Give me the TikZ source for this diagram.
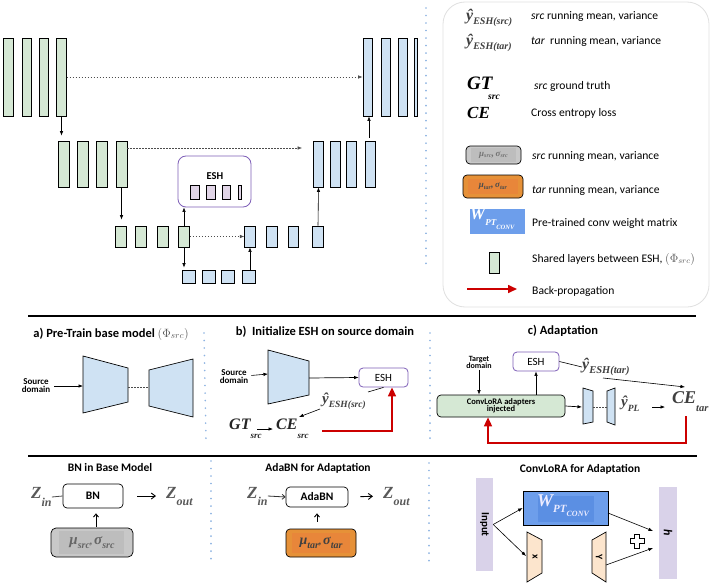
\documentclass[tikz,border=0pt]{standalone}
\usepackage{fontspec}
\setmainfont{Carlito}
\newfontfamily\sr{Liberation Serif}
\usetikzlibrary{arrows.meta,calc}
\definecolor{gfill}{HTML}{D5E8D4}
\definecolor{bfill}{HTML}{CFE2F3}
\definecolor{eshc}{HTML}{7E5FB8}
\definecolor{pfill}{HTML}{E1D5E7}
\definecolor{dotb}{HTML}{8DB3E2}
\definecolor{redc}{HTML}{CC0000}
\definecolor{grayf}{HTML}{C8C8C8}
\definecolor{grayi}{HTML}{BDBDBD}
\definecolor{orf}{HTML}{E69138}
\definecolor{ori}{HTML}{E8863A}
\definecolor{wblue}{HTML}{6D9EEB}
\definecolor{wblin}{HTML}{5B8FE3}
\definecolor{lav}{HTML}{D9D2E9}
\definecolor{peach}{HTML}{FCE5CD}
\definecolor{txg}{HTML}{404040}
\newcommand\fs[1]{\fontsize{#1}{#1}\selectfont}
\newcommand\sbx[3]{\raisebox{#1}{\fs{#2}\sr\bfseries\itshape #3}}
\begin{document}
\begin{tikzpicture}[x=1pt,y=-1pt,
  arr/.style={-{Latex[length=4.5pt,width=3.5pt]}, line width=0.6pt},
  gbar/.style={draw, fill=gfill, line width=0.7pt, inner sep=0pt},
  bbar/.style={draw, fill=bfill, line width=0.7pt, inner sep=0pt},
  pbar/.style={draw, fill=pfill, line width=0.6pt, inner sep=0pt},
  skip/.style={dash pattern=on 1.5pt off 1.5pt, line width=0.6pt, draw=black!70},
  sepl/.style={draw=dotb, line width=1.8pt, dash pattern=on 0.01pt off 7.5pt, line cap=round},
  esh/.style={draw=eshc, rounded corners=4pt, line width=0.8pt, inner sep=0pt, fill=white},
  txt/.style={inner sep=0pt, font=\fs{11.6}},
  ttl/.style={inner sep=0pt, font=\fs{12.5}\bfseries},
  mlab/.style={inner sep=0pt, font=\sr\bfseries\itshape, text=txg},
  zlab/.style={inner sep=0pt, font=\sr\bfseries\itshape, text=black!65},
  redarr/.style={draw=redc, line width=1.6pt, -{Triangle[length=9pt,width=8pt]}},
  trap/.style={draw, fill=bfill, line width=0.7pt},
  rbox/.style={draw, rounded corners=4pt, line width=0.7pt, inner sep=0pt},
]
\useasboundingbox (0,0) rectangle (717,586);
\fill[white] (0,0) rectangle (717,586);

% ---------------- top U-Net ----------------
\foreach \n/\x in {1/8.5,2/27,3/44,4/61.5}
  \node[gbar,minimum width=9.5pt,minimum height=78pt] (g1\n) at (\x,77) {};
\foreach \n/\x in {1/367.5,2/385.5,3/402.5}
  \node[bbar,minimum width=9pt,minimum height=78pt] (b1\n) at (\x,77) {};
\node[bbar,minimum width=3pt,minimum height=78pt] (b14) at (415.5,77) {};
\foreach \n/\x in {1/63.5,2/82.5,3/101.5,4/121.5}
  \node[gbar,minimum width=11pt,minimum height=46pt] (g2\n) at (\x,164) {};
\foreach \n/\x in {1/318.5,2/335,3/351.5,4/370}
  \node[bbar,minimum width=10pt,minimum height=46pt] (b2\n) at (\x,164) {};
\foreach \n/\x in {1/120.5,2/140.5,3/162.5,4/184}
  \node[gbar,minimum width=11pt,minimum height=21pt] (g3\n) at (\x,236.5) {};
\foreach \n/\x in {1/250,2/272,3/293.5,4/318}
  \node[bbar,minimum width=10.5pt,minimum height=21pt] (b3\n) at (\x,236.5) {};
\foreach \n/\x in {1/188.5,2/208.5,3/227.5,4/248.5}
  \node[bbar,minimum width=13pt,minimum height=13pt] (b4\n) at (\x,276.5) {};

\node[esh, rounded corners=8pt, minimum width=73pt, minimum height=51pt] (eshT) at (214.5,181.5) {};
\node[inner sep=0pt, font=\fs{10.5}\bfseries] (eshTl) at (215,176) {ESH};
\node[pbar,minimum width=9pt,minimum height=14pt] (p1) at (194.5,192) {};
\node[pbar,minimum width=9pt,minimum height=14pt] (p2) at (210.5,192) {};
\node[pbar,minimum width=8pt,minimum height=14pt] (p3) at (226,192) {};
\node[pbar,minimum width=3pt,minimum height=14pt] (p4) at (239.5,192) {};

\draw[arr, shorten >=5pt] (g14.south) -- (g14.south |- g21.north);
\draw[skip, arr] (g14.east) -- (b11.west);
\draw[skip, arr, shorten >=11pt] ([yshift=16pt]g24.east) -- ([yshift=16pt]g24.east -| b21.west);
\draw[arr, shorten <=3pt] ([xshift=-1pt]b24.north) -- ([xshift=-1pt]b24.north |- b11.south);
\draw[arr, shorten >=6pt] (g24.south) -- (g24.south |- g31.north);
\draw[arr] (g34.north) -- (g34.north |- eshT.south);
\draw[skip, arr] (g34.east) -- (b31.west);
\draw[arr, shorten >=2pt] (g34.south) -- (g34.south |- b41.north);
\draw[arr] ([xshift=1.5pt]b44.north) -- ([xshift=1.5pt]b44.north |- b31.south);
\draw[arr] (b34.north) -- (b21.south);

\draw[sepl] (426,8) -- (426,265);

% ---------------- legend ----------------
\draw[draw=black!12, line width=0.8pt, rounded corners=22pt] (443,2) rectangle (709,307);
\node[mlab, anchor=west] (ly1) at (466,18) {{\fs{16}ŷ}\sbx{-4.5pt}{10}{ESH(src)}};
\node[txt, anchor=west] (lt1) at (531,17) {\textit{src} running mean, variance};
\node[mlab, anchor=west] (ly2) at (466,43) {{\fs{16}ŷ}\sbx{-4.5pt}{10}{ESH(tar)}};
\node[txt, anchor=west] (lt2) at (531,42) {\textit{tar}\ \ running mean, variance};
\node[mlab, text=black, anchor=west, font=\sr\bfseries\itshape\fs{19}] (lgt) at (467,83) {GT};
\node[mlab, text=black, font=\sr\bfseries\itshape\fs{9.5}] (lgts) at (494,97) {src};
\node[txt, anchor=west] (lt3) at (534,86) {\textit{src} ground truth};
\node[mlab, text=black, anchor=west, font=\sr\bfseries\itshape\fs{17}] (lce) at (467,113) {CE};
\node[txt, anchor=west] (lt4) at (531,113) {Cross entropy loss};
\node[rbox, fill=grayf, minimum width=55pt, minimum height=18pt] (lgb) at (493.5,155) {};
\fill[grayi] (471,148) rectangle (516,162);
\node[mlab, text=black!55] (lgbt) at (lgb.center) {{\fs{9}μ}\sbx{-1.5pt}{6}{src},\,{\fs{9}σ}\sbx{-1.5pt}{6}{src}};
\node[txt, anchor=west] (lt5) at (532,157) {\textit{src} running mean, variance};
\node[rbox, fill=orf, minimum width=60pt, minimum height=23pt] (lob) at (493,186.5) {};
\fill[ori] (468,179) rectangle (518,194);
\node[mlab, text=black!70] (lobt) at (lob.center) {{\fs{9}μ}\sbx{-1.5pt}{6}{tar},\,{\fs{9}σ}\sbx{-1.5pt}{6}{tar}};
\node[txt, anchor=west] (lt6) at (532,191) {\textit{tar} running mean, variance};
\node[fill=wblue, inner sep=0pt, minimum width=55pt, minimum height=25pt] (lwb) at (497.5,221.5) {};
\begin{scope}
\clip (470,209) rectangle (525,234);
\node[mlab, text=white, anchor=west] (lwbt) at (470,219) {{\fs{17}W}\sbx{-6pt}{9}{PT}\sbx{-10pt}{6.5}{CONV}};
\end{scope}
\node[txt, anchor=west] (lt7) at (532,223) {Pre-trained conv weight matrix};
\node[gbar, minimum width=10pt, minimum height=21pt] (lgr) at (494,262.5) {};
\node[txt, anchor=west] (lt8) at (532,259) {Shared layers between ESH, \textcolor{black!65}{$(\Phi_{src})$}};
\coordinate (lra) at (467,289);
\coordinate (lrb) at (517,289);
\draw[redarr] (lra) -- (lrb);
\node[txt, anchor=west] (lt9) at (532,291) {Back-propagation};

% ---------------- separators ----------------
\draw[line width=1.1pt] (28,316) -- (696,316);
\draw[line width=1.1pt] (28,456) -- (697,456);
\draw[sepl] (204,333) -- (206,440);
\draw[sepl] (430,333) -- (430,440);
\draw[sepl] (211,461) -- (211,566);
\draw[sepl] (429,463) -- (429,568);

% ---------------- a) ----------------
\node[ttl] (ta) at (111,334) {a) Pre-Train base model \textcolor{black!65}{\mdseries$(\Phi_{src})$}};
\node[inner sep=0pt, align=center, font=\fs{9}\bfseries] (srcA) at (36,386) {Source\\[-1pt]domain};
\draw[trap] (83,356) -- (128,368) -- (128,402) -- (83,413) -- cycle;
\draw[trap] (149,370) -- (193,359) -- (193,417) -- (149,406) -- cycle;
\coordinate (aein) at (83,386);
\coordinate (aeout) at (128,387);
\coordinate (adin) at (149,387);
\draw[arr, shorten <=4pt] (srcA) -- (aein);
\draw[skip] (aeout) -- (adin);

% ---------------- b) ----------------
\node[ttl] (tb) at (325,332) {b)\ \ Initialize ESH on source domain};
\node[inner sep=0pt, align=center, font=\fs{9}\bfseries] (srcB) at (234,377) {Source\\[-1pt]domain};
\draw[trap] (268,350) -- (309,361) -- (309,395) -- (268,404) -- cycle;
\coordinate (btin) at (268,374);
\coordinate (btout) at (309,378);
\node[esh, minimum width=49pt, minimum height=19pt, font=\fs{11}] (eshB) at (383.5,377.5) {ESH};
\draw[arr, shorten <=3pt] (srcB) -- (btin);
\draw[arr, line width=0.7pt] (btout) -- (eshB.west);
\node[mlab, anchor=west] (yB) at (322,401) {{\fs{15}ŷ}\sbx{-4pt}{9.5}{ESH(src)}};
\coordinate (yBa) at (368,392);
\draw[line width=0.6pt] (eshB.south) -- (yBa);
\node[mlab, text=black!85, anchor=west, font=\sr\bfseries\itshape\fs{16}] (gtB) at (229,429) {GT\sbx{-9pt}{9}{src}};
\node[mlab, text=black!85, anchor=west, font=\sr\bfseries\itshape\fs{16}] (ceB) at (276,429) {CE\sbx{-9pt}{9}{src}};
\coordinate (yBb) at (320,409);
\coordinate (ceBt) at (299,417);
\draw[arr] (yBb) -- (ceBt);
\coordinate (gtBe) at (257,429);
\coordinate (ceBw) at (273,429);
\draw[arr] (gtBe) -- (ceBw);
\coordinate (rb0) at (322,431);
\draw[redarr] (rb0) -| ([xshift=8.5pt]eshB.south);

% ---------------- c) ----------------
\node[ttl] (tc) at (563,331) {c) Adaptation};
\node[inner sep=0pt, align=center, font=\fs{8}\bfseries] (tgt) at (479,362) {Target\\[-1pt]domain};
\node[rbox, fill=gfill, minimum width=128pt, minimum height=22pt, align=center, font=\fs{8.5}\bfseries] (lora) at (501,406) {ConvLoRA adapters\\[-1.5pt]injected};
\node[esh, minimum width=46pt, minimum height=19pt, font=\fs{11}] (eshC) at (536,361.5) {ESH};
\draw[arr, shorten <=2pt] (tgt) -- (tgt |- lora.north);
\draw[arr] (lora.north -| eshC) -- (eshC.south);
\node[mlab, anchor=west] (yC) at (582,367) {{\fs{16}ŷ}\sbx{-4.5pt}{10.5}{ESH(tar)}};
\coordinate (yCa) at (582,367);
\draw[line width=0.6pt] (eshC.east) -- (yCa);
\coordinate (yCb) at (603,378);
\coordinate (ceCt) at (685,387);
\draw[arr] (yCb) -- (ceCt);
\draw[trap] (583,388) -- (593,391) -- (593,422) -- (583,424) -- cycle;
\draw[trap] (607,391) -- (615,388) -- (615,425) -- (607,422) -- cycle;
\coordinate (t1in) at (582,407);
\draw[arr, line width=0.7pt] (lora.east) -- (t1in);
\coordinate (t1out) at (593,407);
\coordinate (t2in) at (607,407);
\draw[skip] (t1out) -- (t2in);
\node[mlab, anchor=west] (ypl) at (621,404) {{\fs{15}ŷ}\sbx{-5pt}{9.5}{PL}};
\coordinate (pla) at (652,407);
\coordinate (plb) at (665,407);
\draw[arr] (pla) -- (plb);
\node[mlab, anchor=west, font=\sr\bfseries\itshape\fs{18}] (ceC) at (672,402) {CE\sbx{-8pt}{10.5}{tar}};
\coordinate (rc0) at (686,416);
\coordinate (rc1) at (686,443);
\coordinate (rc2) at (488,443);
\draw[redarr] (rc0) -- (rc1) -- (rc2) -- (rc2 |- lora.south);

% ---------------- bottom left: BN ----------------
\node[inner sep=0pt, font=\fs{11.5}\bfseries] (tbn) at (110,468) {BN in Base Model};
\node[zlab, anchor=west, font=\sr\bfseries\itshape\fs{17}] (zin1) at (31,497) {Z\raisebox{-8pt}{\fs{12}in}};
\node[rbox, minimum width=60pt, minimum height=24pt, font=\fs{11.5}\bfseries] (bn) at (93,496) {BN};
\draw[line width=0.8pt, black!70] (zin1.east) -- (bn.west);
\node[zlab, anchor=west, font=\sr\bfseries\itshape\fs{17}] (zout1) at (166,496) {Z\raisebox{-7pt}{\fs{12}out}};
\draw[-{Straight Barb[length=4pt,width=6pt]}, line width=0.9pt, shorten <=14pt, shorten >=10pt] (bn.east) -- (zout1.west);
\node[rbox, fill=grayf, minimum width=82pt, minimum height=29pt, rounded corners=5pt] (gbx) at (92,542.5) {};
\fill[grayi] (59,531) rectangle (124,554);
\node[mlab, text=black!60] (gbxt) at (gbx.center) {{\fs{15}μ}\sbx{-4pt}{10}{src},\,{\fs{15}σ}\sbx{-4pt}{10}{src}};
\draw[-{Straight Barb[length=3pt,width=5pt]}, line width=0.9pt, shorten >=5pt, shorten <=1pt] ([xshift=4pt]gbx.north) -- ([xshift=4pt]gbx.north |- bn.south);

% ---------------- bottom middle: AdaBN ----------------
\node[inner sep=0pt, font=\fs{11.5}\bfseries] (tada) at (318,468) {AdaBN for Adaptation};
\node[zlab, anchor=west, font=\sr\bfseries\itshape\fs{17}] (zin2) at (247,496) {Z\raisebox{-7pt}{\fs{12}in}};
\node[rbox, minimum width=62pt, minimum height=20pt, font=\fs{11.5}\bfseries] (ada) at (317,497) {AdaBN};
\draw[-{Straight Barb[length=3pt,width=5pt]}, line width=0.8pt, black!80] (zin2.east) -- (ada.west);
\node[zlab, anchor=west, font=\sr\bfseries\itshape\fs{17}] (zout2) at (383,496) {Z\raisebox{-7pt}{\fs{12}out}};
\draw[-{Straight Barb[length=4pt,width=6pt]}, line width=0.9pt, shorten <=12pt, shorten >=10pt] (ada.east) -- (zout2.west);
\node[rbox, fill=orf, minimum width=70pt, minimum height=28pt] (obx) at (321,543) {};
\fill[ori] (292,533) rectangle (350,553);
\node[mlab, text=black!75] (obxt) at (obx.center) {{\fs{14}μ}\sbx{-4pt}{10}{tar},\,{\fs{14}σ}\sbx{-4pt}{10}{tar}};
\draw[-{Straight Barb[length=3pt,width=5pt]}, line width=0.9pt, shorten >=6pt, shorten <=7pt] (ada.south |- obx.north) -- (ada.south);

% ---------------- bottom right: ConvLoRA ----------------
\node[inner sep=0pt, font=\fs{11.5}\bfseries] (tcl) at (580,469) {ConvLoRA for Adaptation};
\node[fill=lav, inner sep=0pt, minimum width=17pt, minimum height=93pt] (inp) at (484.5,524.5) {};
\node[inner sep=0pt, rotate=-90, font=\fs{11}\bfseries] (inpl) at (inp.center) {Input};
\node[draw, fill=wblue, line width=0.7pt, inner sep=0pt, minimum width=85pt, minimum height=34pt] (wb) at (565.5,508) {};
\fill[wblin] (538,496) rectangle (594,522);
\node[mlab, text=white!92!blue, anchor=west] (wbt) at (537,506) {{\fs{18}W}\sbx{-6pt}{11}{PT}\sbx{-10pt}{8}{CONV}};
\draw[draw, fill=peach, line width=0.7pt] (527,532) -- (542,540) -- (542,573) -- (527,582) -- cycle;
\draw[draw, fill=peach, line width=0.7pt] (592,540) -- (606,532) -- (606,582) -- (592,573) -- cycle;
\node[inner sep=0pt, rotate=-90, font=\fs{10}\bfseries] (xl) at (535,557) {x};
\node[inner sep=0pt, rotate=-90, font=\fs{10}\bfseries] (yl) at (599,557) {Y};
\draw[line width=0.8pt, fill=white] (634.5,534) -- (639.5,534) -- (639.5,538.5) -- (644,538.5) -- (644,543.5) -- (639.5,543.5) -- (639.5,548) -- (634.5,548) -- (634.5,543.5) -- (630,543.5) -- (630,538.5) -- (634.5,538.5) -- cycle;
\node[fill=lav, inner sep=0pt, minimum width=18pt, minimum height=92pt] (hb) at (668,533) {};
\node[inner sep=0pt, rotate=-90, font=\fs{12}\bfseries\itshape] (hl) at (hb.center) {h};
\coordinate (xin) at (526,556);
\draw[arr] (inp.east) -- (wb.west);
\draw[arr] (inp.east) -- (xin);
\coordinate (wout) at (608,513);
\coordinate (yout) at (606,565);
\coordinate (hin1) at (653,531);
\coordinate (hin2) at (653,548);
\draw[arr] (wout) -- (hin1);
\draw[arr] (yout) -- (hin2);
\end{tikzpicture}
\end{document}
